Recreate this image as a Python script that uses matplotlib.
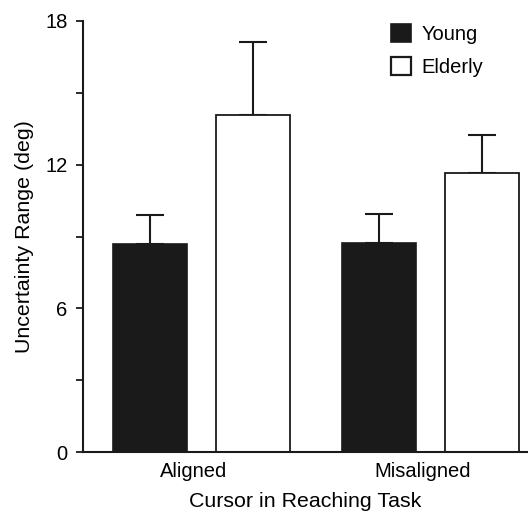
import numpy as np
import matplotlib
matplotlib.use("Agg")
import matplotlib.pyplot as plt
from matplotlib.patches import Patch

plt.rcParams['font.family'] = ['Liberation Sans', 'DejaVu Sans']

# values
conditions = ["Aligned", "Misaligned"]
groups = ["Young", "Elderly"]
young_mean = [8.67, 8.72]
young_err = [1.24, 1.21]
elderly_mean = [14.09, 11.65]
elderly_err = [3.04, 1.59]
y_ticks = [0, 3, 6, 9, 12, 15, 18]
y_ticklabels = ["0", "", "6", "", "12", "", "18"]

ink = '#1a1a1a'
bar_w = 1.0
pair_off = 0.70
group_x = np.array([0.0, 3.095])

fig = plt.figure(figsize=(5.28, 5.14), dpi=100)
ax = fig.add_axes([83/528, 62/514, 1 - 83/528, (452 - 21)/514])

yx = group_x - pair_off
ex = group_x + pair_off
ax.bar(yx, young_mean, width=bar_w, color=ink, edgecolor=ink, linewidth=1.2, zorder=2)
ax.bar(ex, elderly_mean, width=bar_w, color='white', edgecolor=ink, linewidth=1.3, zorder=2)

# upward-only error bars
zeros = np.zeros(len(conditions))
ax.errorbar(yx, young_mean, yerr=[zeros, young_err], fmt='none', ecolor=ink,
            elinewidth=1.5, capsize=10, capthick=1.5, zorder=1)
ax.errorbar(ex, elderly_mean, yerr=[zeros, elderly_err], fmt='none', ecolor=ink,
            elinewidth=1.5, capsize=10, capthick=1.5, zorder=1)

ax.set_xlim(-1.60, 4.41)
ax.set_ylim(0, 18)
ax.set_yticks(y_ticks)
ax.set_yticklabels(y_ticklabels, fontsize=14.5)
ax.set_xticks(group_x - 0.11)
ax.set_xticklabels(conditions, fontsize=14.5)
ax.tick_params(axis='x', length=0, pad=7)
ax.tick_params(axis='y', length=5, width=1.3, color=ink, pad=6)

for side in ['top', 'right']:
    ax.spines[side].set_visible(False)
for side in ['left', 'bottom']:
    ax.spines[side].set_linewidth(1.5)
    ax.spines[side].set_color(ink)

ax.set_xlabel("Cursor in Reaching Task", fontsize=15.4, labelpad=8)
ax.set_ylabel("Uncertainty Range (deg)", fontsize=15.4, labelpad=8)

handles = [Patch(facecolor=ink, edgecolor=ink, linewidth=1.2),
           Patch(facecolor='white', edgecolor=ink, linewidth=1.6)]
ax.legend(handles, groups, loc='upper left', bbox_to_anchor=(391/528, 1 - 24/514),
          bbox_transform=fig.transFigure, frameon=False, fontsize=14.5,
          handlelength=1.0, handleheight=1.0, handletextpad=0.5,
          labelspacing=0.65, borderpad=0, borderaxespad=0)

fig.savefig("out.png", dpi=100)
